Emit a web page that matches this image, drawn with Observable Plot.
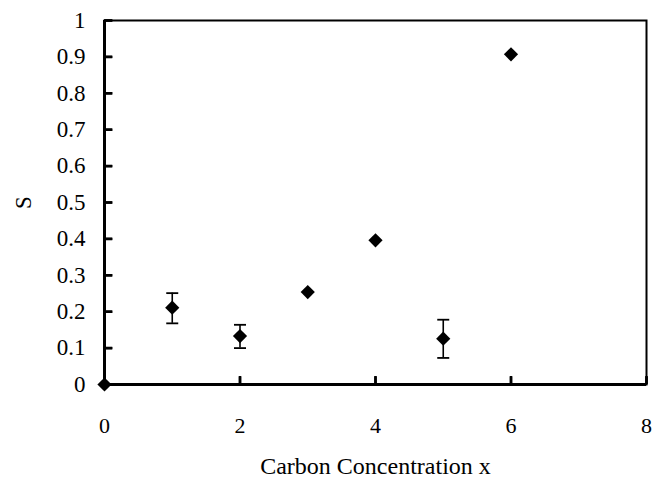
<!DOCTYPE html>
<html>
<head>
<meta charset="utf-8">
<script src="https://cdn.jsdelivr.net/npm/d3@7"></script>
<script src="https://cdn.jsdelivr.net/npm/@observablehq/plot@0.6"></script>
<style>
  html, body { margin: 0; padding: 0; background: #fff; }
</style>
</head>
<body>
<div id="chart"></div>
<script>
const carbonX = [0, 1, 2, 3, 4, 5, 6];
const sValues = [0, 0.211, 0.133, 0.254, 0.396, 0.126, 0.907];

const errX = [1, 2, 5];
const errLow = [0.168, 0.100, 0.073];
const errHigh = [0.251, 0.164, 0.178];

const xTicks = [0, 2, 4, 6, 8];
const yTicks = [0, 0.1, 0.2, 0.3, 0.4, 0.5, 0.6, 0.7, 0.8, 0.9, 1];
const xTitle = ["Carbon Concentration x"];

const points = carbonX.map((x, i) => ({x, s: sValues[i]}));
const errors = errX.map((x, i) => ({x, lo: errLow[i], hi: errHigh[i]}));
const caps = errors.flatMap(d => [{x: d.x, s: d.lo}, {x: d.x, s: d.hi}]);
const xTickRows = xTicks.map(x => ({x, s: 0}));
const yTickRows = yTicks.map(s => ({x: 0, s}));

const capSymbol = {
  draw(context) { context.moveTo(-6, 0); context.lineTo(6, 0); }
};
// filled little bars for the inward tick marks
const xTickSymbol = {
  draw(context) { context.rect(-1.25, -8, 2.5, 8); }
};
const yTickSymbol = {
  draw(context) { context.rect(0, -1.25, 8, 2.5); }
};

const chart = Plot.plot({
  width: 662,
  height: 479,
  marginLeft: 104,
  marginRight: 16,
  marginTop: 20,
  marginBottom: 95,
  style: {fontFamily: "'Liberation Serif', 'Times New Roman', serif", fontSize: "22px", color: "black", background: "white"},
  x: {domain: [0, 8]},
  y: {domain: [0, 1]},
  marks: [
    Plot.frame({stroke: "black", strokeWidth: 2}),
    Plot.ruleX([0], {stroke: "black", strokeWidth: 3}),
    Plot.ruleY([0], {stroke: "black", strokeWidth: 3}),
    Plot.axisX(xTicks, {tickSize: 8, dy: -8, strokeWidth: 2.5, stroke: "black", tickFormat: () => "", label: null}),
    Plot.axisY(yTicks, {tickSize: 8, dx: 8, strokeWidth: 2.5, stroke: "black", tickFormat: () => "", label: null}),
    Plot.dot(xTickRows, {x: "x", y: "s", symbol: xTickSymbol, fill: "black", stroke: "none"}),
    Plot.dot(yTickRows, {x: "x", y: "s", symbol: yTickSymbol, fill: "black", stroke: "none"}),
    Plot.axisX(xTicks, {tickSize: 0, tickPadding: 33, tickFormat: d => String(d), fill: "black", label: null, fontSize: 22}),
    Plot.axisY(yTicks, {tickSize: 0, tickPadding: 19, tickFormat: d => String(d), fill: "black", label: "S", labelArrow: "none", labelAnchor: "center", labelOffset: 90, fontSize: 23}),
    Plot.text(xTitle, {frameAnchor: "bottom", dy: 89, fontSize: 24, fill: "black"}),
    Plot.ruleX(errors, {x: "x", y1: "lo", y2: "hi", stroke: "black", strokeWidth: 1.6}),
    Plot.dot(caps, {x: "x", y: "s", symbol: capSymbol, fill: "none", stroke: "black", strokeWidth: 1.8}),
    Plot.dot(points, {x: "x", y: "s", symbol: "diamond2", r: 6.4, fill: "black", stroke: "none"})
  ]
});
document.getElementById("chart").appendChild(chart);
</script>
</body>
</html>
